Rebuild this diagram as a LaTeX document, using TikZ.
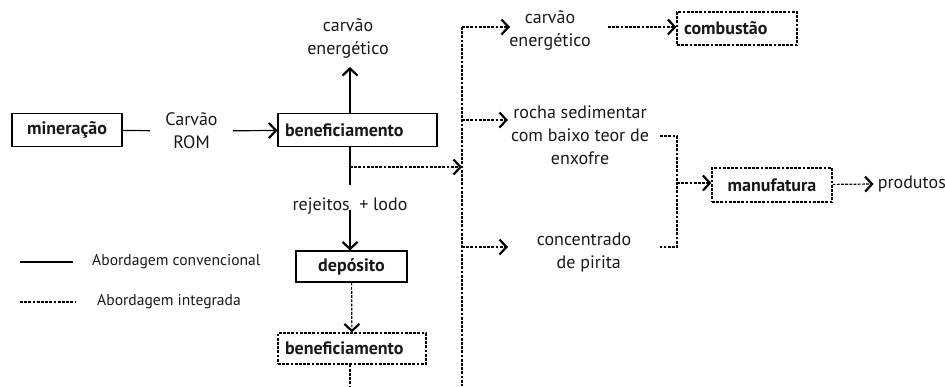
\documentclass[tikz,border=0pt]{standalone}
\usepackage{fontspec}
\setmainfont{PT Sans}
\usetikzlibrary{positioning,arrows.meta}

\begin{document}
\begin{tikzpicture}[x=1pt,y=-1pt,
    every node/.style={font=\fontsize{18}{23}\selectfont, align=center, inner sep=0pt, text=black!90},
    proc/.style={draw, line width=1.1pt, minimum height=33pt, inner xsep=7pt, font=\fontsize{18}{23}\selectfont\bfseries},
    dproc/.style={proc, line width=1.2pt, dash pattern=on 2.8pt off 1.4pt},
    legtext/.style={font=\fontsize{15.6}{18}\selectfont, anchor=west},
    flow/.style={line width=1.2pt},
    dflow/.style={line width=1.2pt, dash pattern=on 2.8pt off 1.4pt},
    tip/.style={-{Straight Barb[length=7pt,width=15pt,line width=2.2pt]}}]
    \useasboundingbox (0,0) rectangle (945,386);

    %% conventional route
    \node[proc, minimum width=110pt] (mineracao) at (67,130) {mineração};
    \node[minimum width=83pt] (rom) at (191.5,131) {Carvão\\ROM};
    \node[proc, text width=145pt, align=left] (benef) at (357.5,130) {beneficiamento};
    \node (energ) at (348,38) {carvão\\energético};
    \node (rejeitos) at (350,206) {rejeitos\ \ + lodo};
    \node[proc, minimum width=111pt, minimum height=31pt] (deposito) at (351.5,266.5) {depósito};

    \coordinate (split) at (350,167);
    \coordinate (stub) at (350,185);

    \draw[flow] (mineracao) -- (rom);
    \draw[flow,tip] (rom) -- (benef);
    \draw[flow,tip] (benef.north -| split) -- ([yshift=-9pt]energ.south -| split);
    \draw[flow] (benef.south -| split) -- (stub);
    \draw[flow,tip] ([yshift=4pt]rejeitos.south -| split) -- (deposito.north -| split);

    %% integrated route
    \node[dproc, text width=134pt, align=left, minimum height=31pt] (benefint) at (352,348.5) {beneficiamento};
    \coordinate (tail) at (350,386);

    \coordinate (bustop) at (462,27);
    \coordinate (busrocha) at (462,120);
    \coordinate (busconc) at (462,247);
    \coordinate (busend) at (462,386);

    \node (energint) at (550,30) {carvão\\energético};
    \node[dproc, text width=106pt, align=left] (combustao) at (737,28.5) {combustão};
    \node (rocha) at (580,135) {rocha sedimentar\\com baixo teor de\\enxofre};
    \node (pirita) at (584,252) {concentrado\\\ \ de pirita};
    \node[dproc, minimum width=120pt, minimum height=34pt] (manuf) at (772,185) {manufatura};
    \node[anchor=east] (produtos) at (946,184) {produtos};

    \coordinate (mergetop) at (677,136);
    \coordinate (mergemid) at (677,183);
    \coordinate (mergebot) at (677,247);

    \draw[dflow,tip] (split) -- (split -| bustop);
    \draw[dflow,tip] (deposito) -- (benefint);
    \draw[dflow] (benefint.south -| tail) -- (tail);
    \draw[dflow] (bustop) -- (busend);
    \draw[dflow,tip] (bustop) -- (510,27);
    \draw[dflow,tip] (busrocha) -- (508,120);
    \draw[dflow,tip] (busconc) -- (508,247);
    \draw[dflow,tip] (608,27) -- (combustao.west |- bustop);
    \draw[dflow] (660,136) -- (mergetop) -- (mergebot) -- (660,247);
    \draw[dflow,tip] (mergemid) -- (manuf.west |- mergemid);
    \draw[dflow,tip] (manuf) -- ([xshift=-4pt]produtos.west);

    %% legend
    \draw[flow] (20,262) -- (73,262);
    \draw[dflow] (20,302) -- (75,302);
    \node[legtext] (legconv) at (92,262) {Abordagem convencional};
    \node[legtext] (legint) at (97,302) {Abordagem integrada};
\end{tikzpicture}
\end{document}
